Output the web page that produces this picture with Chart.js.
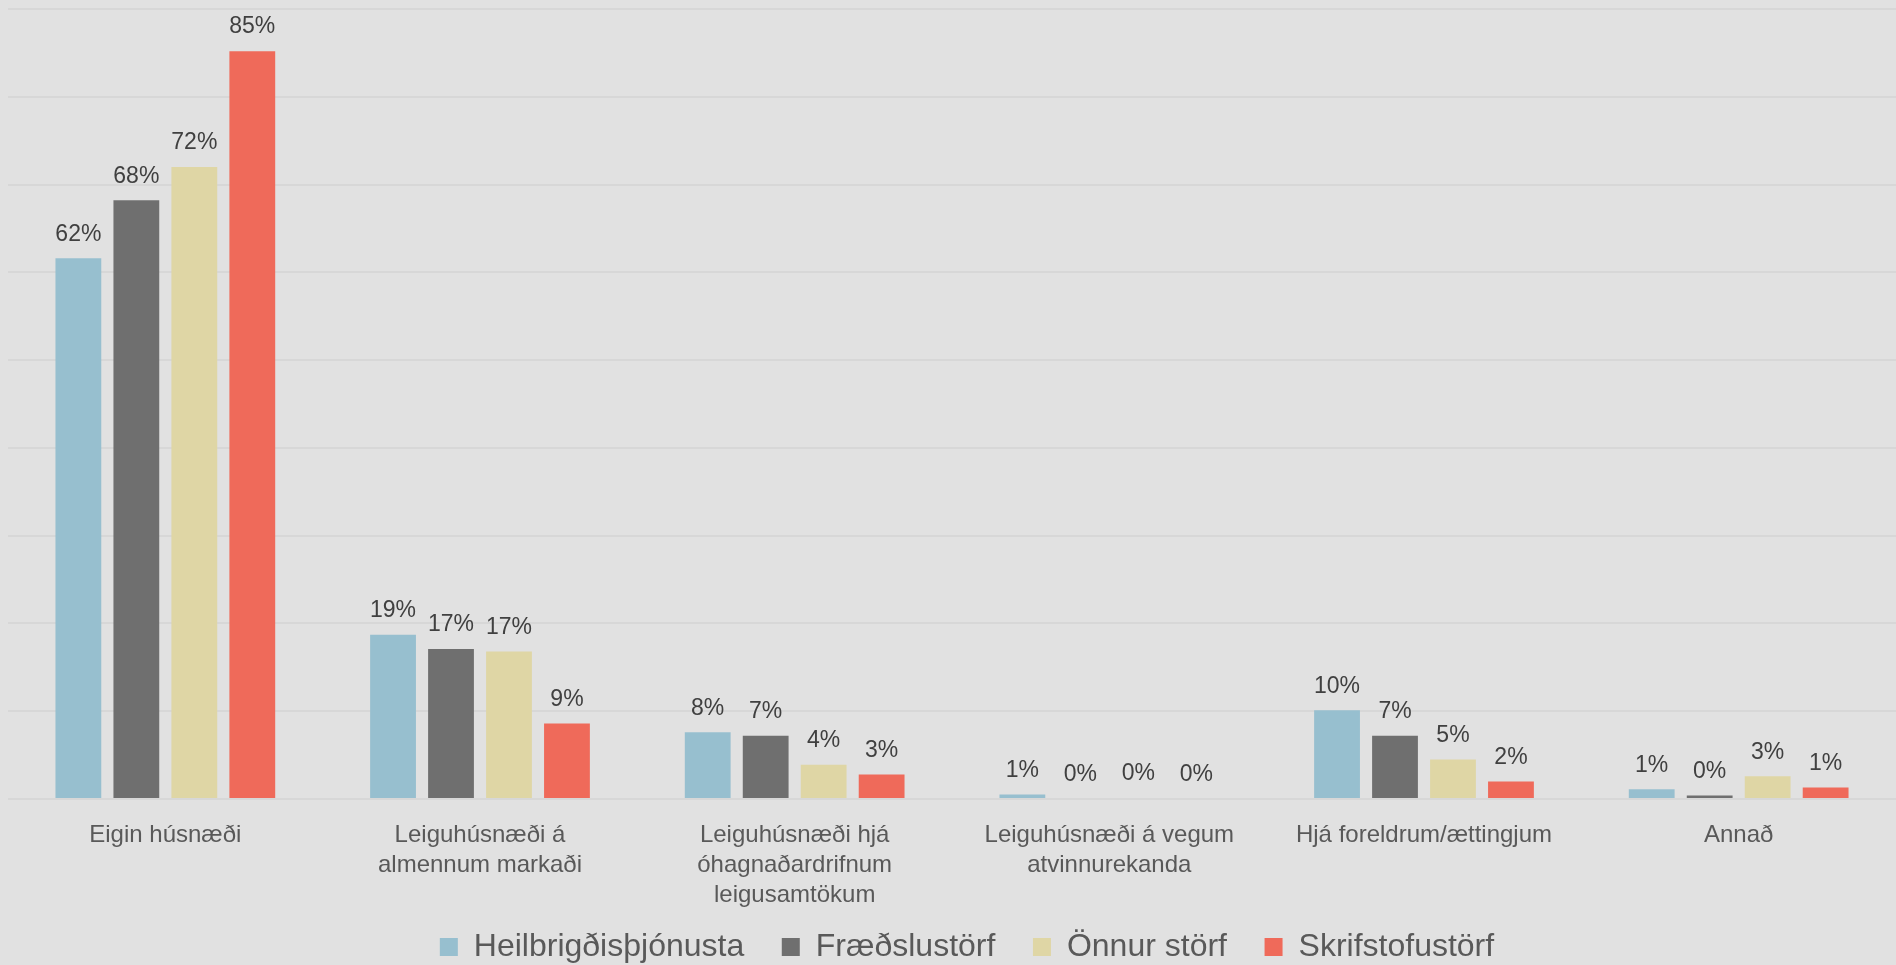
<!DOCTYPE html>
<html>
<head>
<meta charset="utf-8">
<script src="https://cdn.jsdelivr.net/npm/chart.js@4/dist/chart.umd.min.js"></script>
<style>
  html, body { margin: 0; padding: 0; background: #e1e1e1; }
  #wrap { width: 1896px; height: 965px; position: relative; }
</style>
</head>
<body>
<div id="wrap"><canvas id="chart"></canvas></div>
<script>
'use strict';

// Flokkar (x-ás)
var categories = [
    ['Eigin húsnæði'],
    ['Leiguhúsnæði á', 'almennum markaði'],
    ['Leiguhúsnæði hjá', 'óhagnaðardrifnum', 'leigusamtökum'],
    ['Leiguhúsnæði á vegum', 'atvinnurekanda'],
    ['Hjá foreldrum/ættingjum'],
    ['Annað']
];

// Gildi í prósentum, lesin af myndinni
var heilbrigdis = [61.6, 18.7, 7.6, 0.5, 10.1, 1.1];
var fraedslu    = [68.2, 17.1, 7.2, 0.0, 7.2, 0.4];
var onnur       = [72.0, 16.8, 3.9, 0.1, 4.5, 2.6];
var skrifstofu  = [85.2, 8.6, 2.8, 0.0, 2.0, 1.3];

var seriesNames = ['Heilbrigðisþjónusta', 'Fræðslustörf', 'Önnur störf', 'Skrifstofustörf'];
var yMax = 90;
var yStep = 10;

var colors = ['#97bfcf', '#6f6f6f', '#dfd6a5', '#ef6a5a'];
var fontFamily = '"Liberation Sans", Arial, sans-serif';

// Prósentumerki ofan við hverja súlu
var valueLabels = {
    id: 'valueLabels',
    afterDatasetsDraw: function(chart) {
        var ctx = chart.ctx;
        ctx.save();
        ctx.font = '23px ' + fontFamily;
        ctx.fillStyle = '#404040';
        ctx.textAlign = 'center';
        ctx.textBaseline = 'middle';
        chart.data.datasets.forEach(function(ds, i) {
            var meta = chart.getDatasetMeta(i);
            meta.data.forEach(function(bar, j) {
                ctx.fillText(Math.round(ds.data[j]) + '%', bar.x, bar.y - 24);
            });
        });
        ctx.restore();
    }
};

// Færir skýringuna aðeins til hægri og niður
var legendShift = {
    id: 'legendShift',
    afterLayout: function(chart) {
        var lg = chart.legend;
        if (!lg) return;
        lg.left += 15; lg.right += 15;
        lg.top += 8; lg.bottom += 8;
    }
};

var allSeries = [heilbrigdis, fraedslu, onnur, skrifstofu];
var datasets = allSeries.map(function(values, i) {
    return {
        label: seriesNames[i],
        data: values,
        backgroundColor: colors[i],
        borderWidth: 0,
        categoryPercentage: 0.737,
        barPercentage: 0.79
    };
});

new Chart(document.getElementById('chart'), {
    type: 'bar',
    data: { labels: categories, datasets: datasets },
    options: {
        responsive: true,
        maintainAspectRatio: false,
        animation: false,
        layout: { padding: { left: 8, top: 9, right: 0, bottom: 0 } },
        scales: {
            x: {
                grid: { display: false },
                border: { display: false },
                ticks: {
                    color: '#595959',
                    font: { family: fontFamily, size: 24, lineHeight: 1.25 },
                    padding: 13,
                    maxRotation: 0,
                    autoSkip: false
                },
                afterFit: function(scale) {
                    scale.height = 122;
                }
            },
            y: {
                min: 0,
                max: yMax,
                ticks: { display: false, stepSize: yStep },
                grid: { color: '#d7d7d7', lineWidth: 2, drawTicks: false },
                border: { display: false }
            }
        },
        plugins: {
            legend: {
                position: 'bottom',
                labels: {
                    color: '#595959',
                    font: { family: fontFamily, size: 32 },
                    boxWidth: 18,
                    boxHeight: 18,
                    padding: 2,
                    // bil á milli liða eins og á myndinni
                    generateLabels: function(chart) {
                        var items = Chart.defaults.plugins.legend.labels.generateLabels(chart);
                        items.forEach(function(item, i) {
                            if (i < items.length - 1) item.text = item.text + '    ';
                        });
                        return items;
                    }
                }
            },
            tooltip: { enabled: false }
        }
    },
    plugins: [valueLabels, legendShift]
});
</script>
</body>
</html>
